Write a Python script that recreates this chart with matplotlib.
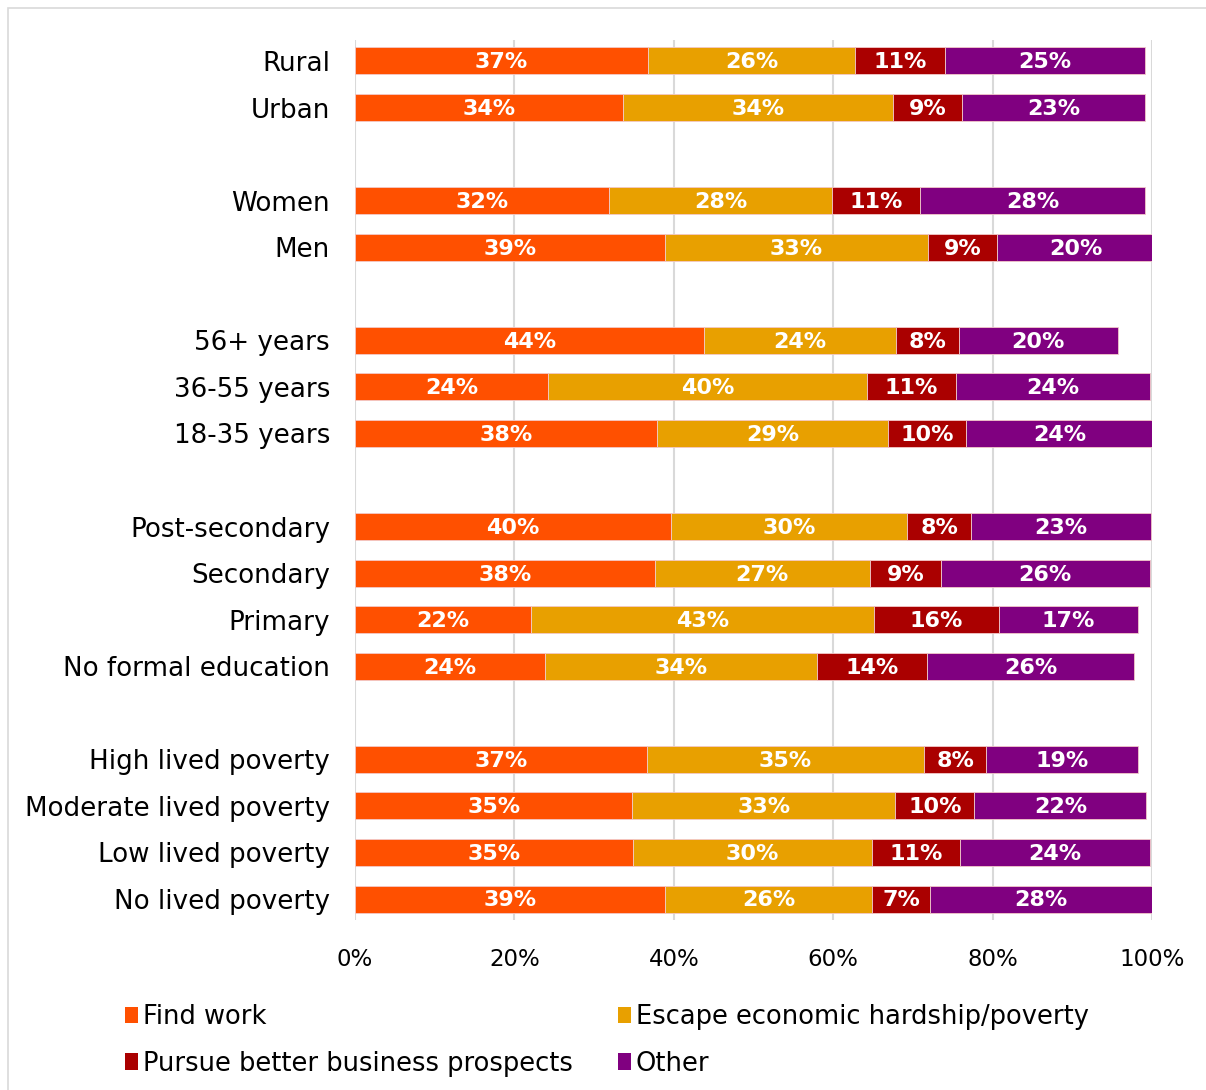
import numpy as np
import matplotlib
matplotlib.use("Agg")
import matplotlib.pyplot as plt
from matplotlib.patches import Rectangle, Patch

plt.rcParams['font.family'] = ['DejaVu Sans']

# categories, top to bottom; None marks the blank row between groups
categories = ["Rural", "Urban", None,
              "Women", "Men", None,
              "56+ years", "36-55 years", "18-35 years", None,
              "Post-secondary", "Secondary", "Primary", "No formal education", None,
              "High lived poverty", "Moderate lived poverty", "Low lived poverty", "No lived poverty"]

find_work = [36.8, 33.6, 31.9, 38.9, 43.8, 24.2, 37.9, 39.6, 37.6, 22.1, 23.8, 36.6, 34.8, 34.9, 38.9]
escape_hardship = [25.9, 33.9, 27.9, 33.0, 24.1, 40.0, 29.0, 29.7, 27.0, 43.0, 34.2, 34.8, 33.0, 30.0, 26.0]
better_business = [11.3, 8.7, 11.1, 8.7, 7.9, 11.2, 9.7, 8.0, 8.9, 15.7, 13.8, 7.8, 9.9, 11.0, 7.2]
other = [25.1, 22.9, 28.2, 19.6, 19.9, 24.3, 23.6, 22.6, 26.2, 17.4, 25.9, 19.0, 21.6, 23.8, 28.0]

series_names = ["Find work", "Escape economic hardship/poverty",
                "Pursue better business prospects", "Other"]
colors = ["#FF5000", "#E8A000", "#AA0000", "#800080"]

fig = plt.figure(figsize=(12.06, 10.9), dpi=100)

# thin frame around the chart area
fig.patches.append(Rectangle((8 / 1206, -0.01), 1.02, 1 - 8 / 1090 + 0.01,
                             transform=fig.transFigure, fill=False,
                             edgecolor="#D9D9D9", lw=1.2))

ax = fig.add_axes([355 / 1206, 1 - 920 / 1090, 797 / 1206, 880 / 1090])

rows = [i for i, c in enumerate(categories) if c is not None]
data = [find_work, escape_hardship, better_business, other]

left = np.zeros(len(rows))
for vals, col in zip(data, colors):
    vals = np.array(vals)
    ax.barh(rows, vals, left=left, height=0.58, color=col,
            edgecolor="#F2C9C9", linewidth=0.6, zorder=3)
    for y, l, v in zip(rows, left, vals):
        ax.text(l + v / 2, y + 0.03, f"{v:.0f}%", ha="center", va="center",
                color="white", fontsize=16, fontweight="bold", zorder=4)
    left += vals

ax.set_xlim(0, 100)
ax.set_ylim(18.45, -0.45)
ax.set_yticks(rows)
ax.set_yticklabels([categories[i] for i in rows], fontsize=18.8)
ax.set_xticks(np.arange(0, 101, 20))
ax.set_xticklabels([f"{t}%" for t in range(0, 101, 20)], fontsize=16.5)
ax.tick_params(length=0, pad=18, axis="y")
ax.tick_params(length=0, pad=20, axis="x")
ax.grid(axis="x", color="#D9D9D9", lw=1.5, zorder=0)
for s in ax.spines.values():
    s.set_visible(False)

# legend fills column by column, so order the entries to read across rows
order = [0, 2, 1, 3]
handles = [Patch(facecolor=colors[i]) for i in order]
fig.legend(handles, [series_names[i] for i in order], loc="upper left",
           bbox_to_anchor=(102 / 1206, 1 - 981 / 1090), ncol=2,
           frameon=False, fontsize=18.5, handlelength=0.5, handleheight=0.6,
           handletextpad=0.2, columnspacing=1.75, labelspacing=0.8)

fig.savefig("out.png", dpi=100, facecolor="white")
